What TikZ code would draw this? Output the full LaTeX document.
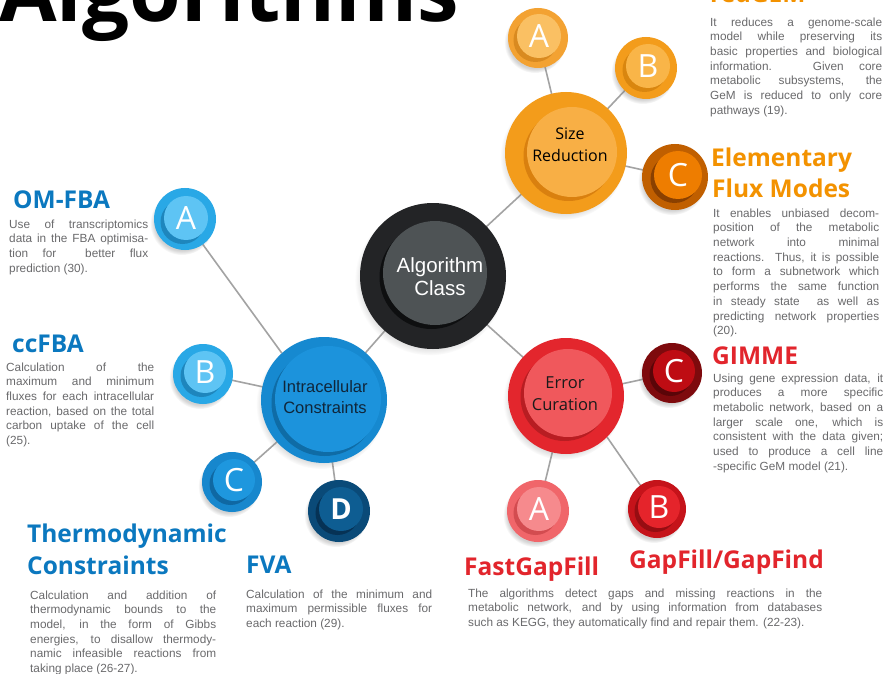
\documentclass[tikz,border=0pt]{standalone}
\usepackage{fontspec}
\setmainfont{Liberation Sans}
\newfontfamily\headfont{Open Sans}
\usetikzlibrary{calc,shadows,backgrounds}

% palette
\definecolor{linegray}{HTML}{A3A3A3}
\definecolor{bodygray}{HTML}{6A6A6C}
\definecolor{hdorange}{HTML}{F39200}
\definecolor{hdblue}{HTML}{0B78BF}
\definecolor{hdred}{HTML}{E2252C}
% central class
\definecolor{algO}{HTML}{232426}\definecolor{algI}{HTML}{4E5355}\definecolor{algS}{HTML}{0E0F10}
% size reduction
\definecolor{szO}{HTML}{F39C1B}\definecolor{szI}{HTML}{F8AF45}\definecolor{szS}{HTML}{D9800F}
\definecolor{saO}{HTML}{F3A232}\definecolor{saI}{HTML}{FAC063}\definecolor{saS}{HTML}{D98A20}
\definecolor{sbO}{HTML}{F39C1B}\definecolor{sbI}{HTML}{F9B548}\definecolor{sbS}{HTML}{D9860F}
\definecolor{scO}{HTML}{C05F00}\definecolor{scI}{HTML}{EE7D00}\definecolor{scS}{HTML}{8A4000}
% intracellular constraints
\definecolor{icO}{HTML}{1689D0}\definecolor{icI}{HTML}{1C93DC}\definecolor{icS}{HTML}{0F6CA6}
\definecolor{baO}{HTML}{29A8E6}\definecolor{baI}{HTML}{5EC4F4}\definecolor{baS}{HTML}{1E86BD}
\definecolor{bcO}{HTML}{1787CD}\definecolor{bcI}{HTML}{1E97DE}\definecolor{bcS}{HTML}{0F68A3}
\definecolor{bdO}{HTML}{0A4A78}\definecolor{bdI}{HTML}{0E5D92}\definecolor{bdS}{HTML}{063255}
% error curation
\definecolor{ecO}{HTML}{E3262D}\definecolor{ecI}{HTML}{F0585C}\definecolor{ecS}{HTML}{B81D22}
\definecolor{raO}{HTML}{F0666A}\definecolor{raI}{HTML}{F68A8D}\definecolor{raS}{HTML}{D34C50}
\definecolor{rbO}{HTML}{C5131A}\definecolor{rbI}{HTML}{E5242B}\definecolor{rbS}{HTML}{960D12}
\definecolor{rcO}{HTML}{7E0A0D}\definecolor{rcI}{HTML}{BE0C13}\definecolor{rcS}{HTML}{5A0508}

% justified line of a description block
\newlength\bw
\newcommand\jl[1]{\makebox[\bw][s]{#1}}

% a two-tone disc: name, centre, outer diameter, inner diameter,
% outer colour, inner colour, shade colour, offset of the inner disc
\newcommand{\bubble}[8]{%
  \node[outerdisc,minimum size=#3pt,fill=#5] (#1) at (#2) {};
  \node[innerdisc,minimum size=#4pt,fill=#7] (#1-sh) at ($(#1.center)+(#8)+(-3.5,4)$) {};
  \node[innerdisc,minimum size=#4pt,fill=#6] (#1-in) at ($(#1.center)+(#8)$) {};
}

\begin{document}
\begin{tikzpicture}[x=1pt,y=-1pt,
  outerdisc/.style={circle,inner sep=0,outer sep=0,draw=none,
    circular drop shadow={shadow xshift=-3pt,shadow yshift=-4pt,shadow scale=1.03,opacity=.35}},
  innerdisc/.style={circle,inner sep=0,outer sep=0,draw=none},
  conn/.style={draw=linegray,line width=1.6pt},
  letter/.style={font=\headfont\fontsize{32}{32}\selectfont,text=white,inner sep=0},
  head/.style={font=\headfont\bfseries\fontsize{24.5}{28}\selectfont,anchor=base west,inner sep=0},
  body/.style={font=\fontsize{11.8}{14.7}\selectfont,text=bodygray,anchor=north west,inner sep=0,align=left},
  hublabel/.style={inner sep=0,align=center},
]
\useasboundingbox (0,0) rectangle (884,674);

% title
\node[font=\headfont\bfseries\fontsize{83.5}{90}\selectfont,anchor=base west,inner sep=0] (title) at (-1,22) {Algorithms};

% discs
\bubble{alg}{433,276}{146}{104}{algO}{algI}{algS}{2,-3}
\bubble{size}{566,153}{122}{90}{szO}{szI}{szS}{6,-1}
\bubble{sA}{538,38}{60}{44}{saO}{saI}{saS}{1,-2}
\bubble{sB}{646,68}{62}{44}{sbO}{sbI}{sbS}{2,-2}
\bubble{sC}{675,177}{66}{48}{scO}{scI}{scS}{3,-2}
\bubble{intra}{324,400}{126}{106}{icO}{icI}{icS}{4,-1}
\bubble{bA}{185,219}{62}{44}{baO}{baI}{baS}{1,-1}
\bubble{bB}{203,374}{60}{42}{baO}{baI}{baS}{2,-2}
\bubble{bC}{232,482}{60}{42}{bcO}{bcI}{bcS}{2,-2}
\bubble{bD}{339,511}{62}{44}{bdO}{bdI}{bdS}{2,-2}
\bubble{err}{566,396}{116}{88}{ecO}{ecI}{ecS}{2,-3}
\bubble{rA}{538,511}{62}{44}{raO}{raI}{raS}{1,-2}
\bubble{rB}{657,509}{58}{42}{rbO}{rbI}{rbS}{2,-2}
\bubble{rC}{672,373}{60}{42}{rcO}{rcI}{rcS}{2,-2}

% disc labels
\node[hublabel,text=white,font=\fontsize{20.5}{23}\selectfont] (alg-t) at ($(alg-in)+(5,4)$) {Algorithm\\Class};
\node[hublabel,font=\headfont\fontsize{16}{22}\selectfont] (size-t) at ($(size-in)+(-2,-7)$) {Size\\Reduction};
\node[hublabel,text={rgb,255:red,16;green,38;blue,58},font=\fontsize{16.5}{21}\selectfont] (intra-t) at ($(intra-in)+(-3,-2)$) {Intracellular\\Constraints};
\node[hublabel,text={rgb,255:red,26;green,26;blue,26},font=\headfont\fontsize{16.5}{22}\selectfont] (err-t) at ($(err-in)+(-3,1)$) {Error\\Curation};

\node[letter] (sA-t) at (sA-in) {A};
\node[letter] (sB-t) at (sB-in) {B};
\node[letter] (sC-t) at (sC-in) {C};
\node[letter] (bA-t) at (bA-in) {A};
\node[letter] (bB-t) at (bB-in) {B};
\node[letter] (bC-t) at (bC-in) {C};
\node[letter,font=\headfont\bfseries\fontsize{29}{29}\selectfont] (bD-t) at (bD-in) {D};
\node[letter] (rA-t) at (rA-in) {A};
\node[letter] (rB-t) at (rB-in) {B};
\node[letter] (rC-t) at (rC-in) {C};

% headings
\node[head,text=hdorange] (h-redgem) at (710,3) {redGEM};
\node[head,text=hdorange] (h-efm1) at (711,167) {Elementary};
\node[head,text=hdorange] (h-efm2) at (712,197) {Flux Modes};
\node[head,text=hdred] (h-gimme) at (712,364) {GIMME};
\node[head,text=hdblue] (h-omfba) at (13,208) {OM-FBA};
\node[head,text=hdblue] (h-ccfba) at (12,352) {ccFBA};
\node[head,text=hdblue] (h-td1) at (27,542) {Thermodynamic};
\node[head,text=hdblue] (h-td2) at (27,574) {Constraints};
\node[head,text=hdblue] (h-fva) at (246,573) {FVA};
\node[head,text=hdred] (h-fgf) at (464,575) {FastGapFill};
\node[head,text=hdred] (h-gf) at (629,568) {GapFill/GapFind};

% descriptions
\setlength\bw{172pt}
\node[body] (d-redgem) at (710,17.4) {%
\jl{It reduces a genome-scale}\\
\jl{model while preserving its}\\
\jl{basic properties and biological}\\
\jl{information. Given core}\\
\jl{metabolic subsystems, the}\\
\jl{GeM is reduced to only core}\\
pathways (19).};

\setlength\bw{166pt}
\node[body] (d-efm) at (713,208.4) {%
\jl{It enables unbiased decom-}\\
\jl{position of the metabolic}\\
\jl{network into minimal}\\
\jl{reactions. Thus, it is possible}\\
\jl{to form a subnetwork which}\\
\jl{performs the same function}\\
\jl{in steady state\ \ as well as}\\
\jl{predicting network properties}\\
(20).};

\setlength\bw{170pt}
\node[body] (d-gimme) at (713,373.4) {%
\jl{Using gene expression data, it}\\
\jl{produces a more specific}\\
\jl{metabolic network, based on a}\\
\jl{larger scale one, which is}\\
\jl{consistent with the data given;}\\
\jl{used to produce a cell line}\\
-specific GeM model (21).};

\setlength\bw{139pt}
\node[body] (d-omfba) at (9,219.4) {%
\jl{Use of transcriptomics}\\
\jl{data in the FBA optimisa-}\\
\jl{tion for\ \ better flux}\\
prediction (30).};

\setlength\bw{148pt}
\node[body] (d-ccfba) at (6,362.4) {%
\jl{Calculation of the}\\
\jl{maximum and minimum}\\
\jl{fluxes for each intracellular}\\
\jl{reaction, based on the total}\\
\jl{carbon uptake of the cell}\\
(25).};

\setlength\bw{186pt}
\node[body] (d-td) at (30,590.4) {%
\jl{Calculation and addition of}\\
\jl{thermodynamic bounds to the}\\
\jl{model, in the form of Gibbs}\\
\jl{energies, to disallow thermody-}\\
\jl{namic infeasible reactions from}\\
taking place (26-27).};

\setlength\bw{186pt}
\node[body] (d-fva) at (246,589.4) {%
\jl{Calculation of the minimum and}\\
\jl{maximum permissible fluxes for}\\
each reaction (29).};

\setlength\bw{354pt}
\node[body] (d-gap) at (468,588.4) {%
\jl{The algorithms detect gaps and missing reactions in the}\\
\jl{metabolic network, and by using information from databases}\\
such as KEGG, they automatically find and repair them. (22-23).};

% connectors, behind the discs
\begin{pgfonlayer}{background}
\fill[white] (0,0) rectangle (884,674);
\draw[conn] (alg.center) -- (size.center);
\draw[conn] (alg.center) -- (intra.center);
\draw[conn] (alg.center) -- (err.center);
\draw[conn] (size.center) -- (sA.center);
\draw[conn] (size.center) -- (sB.center);
\draw[conn] (size.center) -- (sC.center);
\draw[conn] (intra.132) -- (bA.-55);
\draw[conn] (intra.center) -- (bB.center);
\draw[conn] (intra.center) -- (bC.center);
\draw[conn] (intra.center) -- (bD.center);
\draw[conn] (err.center) -- (rC.center);
\draw[conn] (err.center) -- (rA.center);
\draw[conn] (err.-45) -- (rB.125);
\end{pgfonlayer}
\end{tikzpicture}
\end{document}
